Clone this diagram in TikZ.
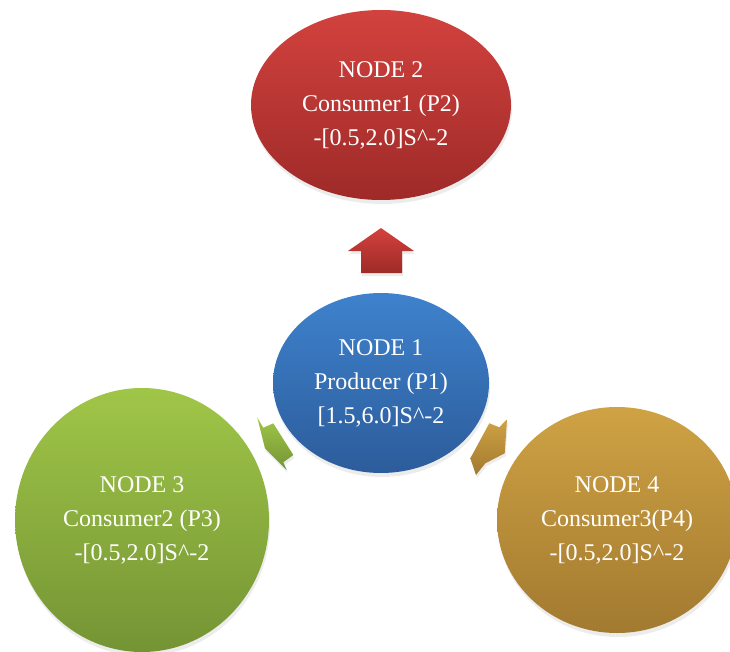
\documentclass[tikz,border=0pt]{standalone}
\usepackage{fontspec}
\setmainfont{Liberation Serif}
\usetikzlibrary{shapes.geometric,shadows}
\definecolor{redT}{RGB}{210,66,62}
\definecolor{redB}{RGB}{158,42,40}
\definecolor{blueT}{RGB}{62,130,205}
\definecolor{blueB}{RGB}{44,92,155}
\definecolor{greenT}{RGB}{160,198,72}
\definecolor{greenB}{RGB}{116,148,52}
\definecolor{goldT}{RGB}{207,162,68}
\definecolor{goldB}{RGB}{162,122,48}
\begin{document}
\begin{tikzpicture}[x=1pt,y=-1pt,
  nodeell/.style={ellipse, inner sep=0pt, text=white, align=center,
    font=\fontsize{24}{34}\selectfont,
    drop shadow={opacity=0.15, shadow xshift=1pt, shadow yshift=-4pt}},
  blockarrow/.style={drop shadow={opacity=0.15, shadow xshift=1pt, shadow yshift=-3pt}}]
\useasboundingbox (0,0) rectangle (730,652);
\clip (0,0) rectangle (730,652);

\node[nodeell, minimum width=260pt, minimum height=190pt, top color=redT, bottom color=redB]
  (n2) at (381,105) {NODE 2\\Consumer1 (P2)\\-[0.5,2.0]S\^{}-2};
\node[nodeell, minimum width=216pt, minimum height=180pt, top color=blueT, bottom color=blueB]
  (n1) at (381,383) {NODE 1\\Producer (P1)\\{}[1.5,6.0]S\^{}-2};
\node[nodeell, minimum width=254pt, minimum height=264pt, top color=greenT, bottom color=greenB]
  (n3) at (142,520) {NODE 3\\Consumer2 (P3)\\-[0.5,2.0]S\^{}-2};
\node[nodeell, minimum width=240pt, minimum height=226pt, top color=goldT, bottom color=goldB]
  (n4) at (617,520) {NODE 4\\Consumer3(P4)\\-[0.5,2.0]S\^{}-2};

% up arrow (node 1 -> node 2)
\path[blockarrow, top color=redT, bottom color=redB]
  (381,228) -- (414,251) -- (402,251) -- (402,273) -- (361,273) -- (361,251) -- (348,251) -- cycle;
% arrow towards node 3
\path[blockarrow, top color=greenT, bottom color=greenB]
  (257.3,417.7) -- (263.3,427.7) -- (273.3,423.3) -- (293.3,455) -- (283.3,462.3)
  -- (286.7,470) -- (265,448.3) -- cycle;
% arrow towards node 4
\path[blockarrow, top color=goldT, bottom color=goldB]
  (489.3,423.3) -- (499.3,427.3) -- (507,419.3) -- (504.7,453.3) -- (485.3,463.3)
  -- (476,475) -- (470.3,458.3) -- cycle;
\end{tikzpicture}
\end{document}
